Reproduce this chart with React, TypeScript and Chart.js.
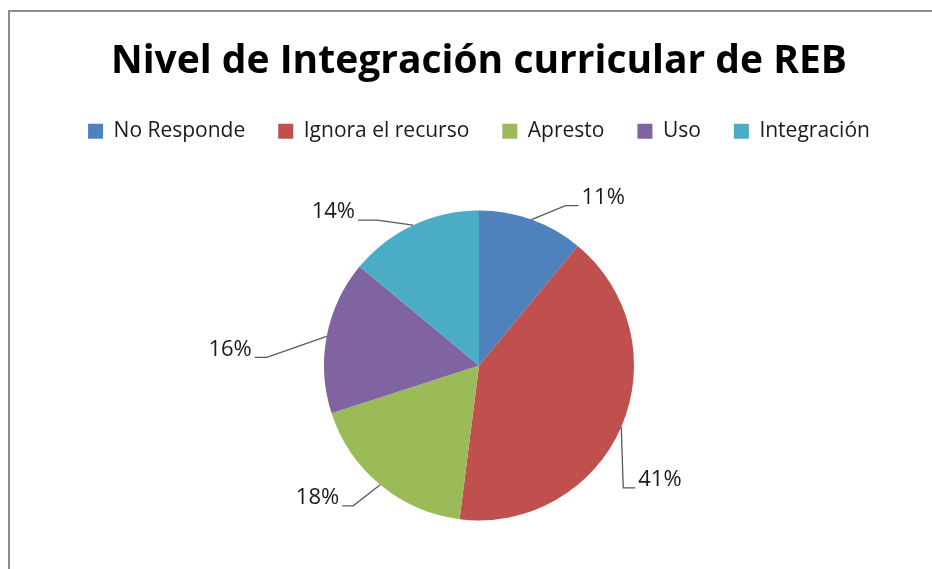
import React, { useEffect, useRef } from 'react';
import { Chart, registerables } from 'chart.js';

Chart.register(...registerables);

const TITLE = 'Nivel de Integración curricular de REB';
const categories = ['No Responde', 'Ignora el recurso', 'Apresto', 'Uso', 'Integración'];
const values = [11, 41, 18, 16, 14];
const valueLabels = ['11%', '41%', '18%', '16%', '14%'];
const colors = ['#4F81BD', '#C0504D', '#9BBB59', '#8064A2', '#4BACC6'];

// leader-line layout (elbow offset from the slice edge, horizontal tail, side)
const LEADERS = [
  { dx: 34, dy: -14, tail: 13, side: 1 },
  { dx: 2, dy: 61, tail: 12, side: 1 },
  { dx: -27, dy: 21, tail: 11, side: -1 },
  { dx: -60, dy: 21, tail: 12, side: -1 },
  { dx: -36, dy: -5, tail: 19, side: -1 },
];

const FONT = '"Open Sans", "DejaVu Sans", sans-serif';

const leaderPlugin = {
  id: 'leaders',
  afterDatasetsDraw(chart: any) {
    const meta = chart.getDatasetMeta(0);
    const ctx = chart.ctx;
    ctx.save();
    meta.data.forEach((arc: any, i: number) => {
      const p = arc.getProps(['x', 'y', 'startAngle', 'endAngle', 'outerRadius'], true);
      const mid = (p.startAngle + p.endAngle) / 2;
      const ex = p.x + Math.cos(mid) * p.outerRadius;
      const ey = p.y + Math.sin(mid) * p.outerRadius;
      const L = LEADERS[i];
      const bx = ex + L.dx;
      const by = ey + L.dy;
      const tx = bx + L.side * L.tail;
      ctx.beginPath();
      ctx.strokeStyle = '#595959';
      ctx.lineWidth = 1.3;
      ctx.moveTo(ex, ey);
      ctx.lineTo(bx, by);
      ctx.lineTo(tx, by);
      ctx.stroke();
      ctx.fillStyle = '#1a1a1a';
      ctx.font = `22px ${FONT}`;
      ctx.textBaseline = 'middle';
      ctx.textAlign = L.side > 0 ? 'left' : 'right';
      ctx.fillText(valueLabels[i], tx + L.side * 3, by - 8);
    });
    ctx.restore();
  },
};

export default function App() {
  const ref = useRef<HTMLCanvasElement | null>(null);
  useEffect(() => {
    if (!ref.current) return;
    const chart = new Chart(ref.current, {
      type: 'pie',
      data: {
        labels: categories,
        datasets: [
          {
            data: values,
            backgroundColor: colors,
            borderWidth: 0,
            radius: 155,
          } as any,
        ],
      },
      options: {
        responsive: false,
        animation: false,
        devicePixelRatio: 1,
        layout: { padding: { left: 26, right: 0, top: 0, bottom: 41 } },
        plugins: {
          title: {
            display: true,
            text: TITLE,
            color: '#000',
            font: { family: FONT, size: 39, weight: 'bold', lineHeight: 1.2 } as any,
            padding: { top: 38, bottom: 3 },
          },
          legend: {
            position: 'top',
            labels: {
              color: '#1a1a1a',
              font: { family: FONT, size: 21 },
              boxWidth: 15,
              boxHeight: 15,
              padding: 33,
            },
          },
          tooltip: { enabled: false },
        },
      } as any,
      plugins: [leaderPlugin],
    });
    return () => chart.destroy();
  }, []);

  return (
    <div style={{ position: 'fixed', left: 0, top: 0, width: 932, height: 569, overflow: 'hidden', background: '#fff' }}>
      <div style={{ position: 'absolute', left: 8, top: 10, width: 2000, height: 2000, border: '2px solid #8c8c8c', boxSizing: 'border-box' }} />
      <canvas ref={ref} width={932} height={620} style={{ position: 'absolute', left: 0, top: 0 }} />
    </div>
  );
}
